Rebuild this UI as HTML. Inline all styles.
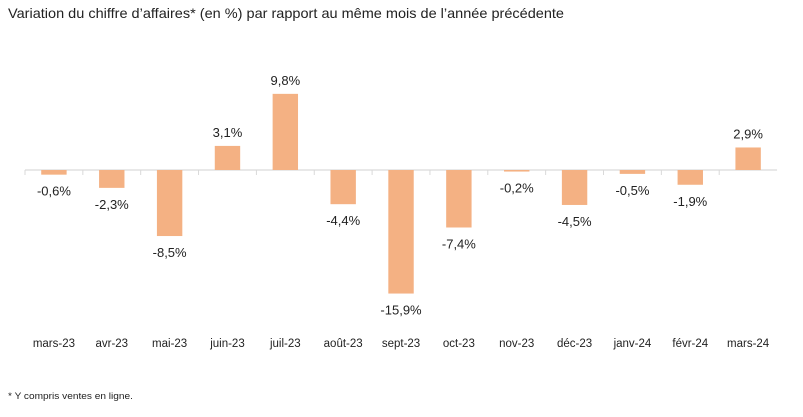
<!DOCTYPE html><html><head><style>body{margin:0;background:#fff}svg text{font-family:"Liberation Sans",Arial,sans-serif;fill:#222}</style></head><body>
<svg width="803" height="412" xmlns="http://www.w3.org/2000/svg">
<text x="8" y="18" font-size="13.8" textLength="556" lengthAdjust="spacingAndGlyphs">Variation du chiffre d’affaires* (en %) par rapport au même mois de l’année précédente</text>
<g id="c"></g>
<text x="8" y="399" font-size="9.5" textLength="125" lengthAdjust="spacingAndGlyphs">* Y compris ventes en ligne.</text>
</svg>
<script>
var d=[["mars-23",-0.6],["avr-23",-2.3],["mai-23",-8.5],["juin-23",3.1],["juil-23",9.8],["août-23",-4.4],["sept-23",-15.9],["oct-23",-7.4],["nov-23",-0.2],["déc-23",-4.5],["janv-24",-0.5],["févr-24",-1.9],["mars-24",2.9]];
var s='',x0=25,w=57.85,z=170,k=7.77;
s+='<line x1="'+x0+'" y1="'+z+'" x2="'+(x0+13*w)+'" y2="'+z+'" stroke="#d9d9d9" stroke-width="1.2"/>';
d.forEach(function(e,i){var cx=x0+w*(i+0.5),h=Math.abs(e[1])*k,y=e[1]>0?z-h:z;
s+='<line x1="'+(x0+w*i)+'" y1="'+z+'" x2="'+(x0+w*i)+'" y2="'+(z+5)+'" stroke="#d9d9d9"/>';
s+='<rect x="'+(cx-12.7)+'" y="'+y+'" width="25.4" height="'+h+'" fill="#f4b183"/>';
var ly=e[1]>0?z-h-9:z+h+21;
s+='<text x="'+cx+'" y="'+ly+'" font-size="13" text-anchor="middle">'+e[1].toFixed(1).replace('.',',')+'%</text>';
s+='<text x="'+cx+'" y="347" font-size="11.5" text-anchor="middle">'+e[0]+'</text>';});
document.getElementById('c').innerHTML=s;
</script></body></html>
